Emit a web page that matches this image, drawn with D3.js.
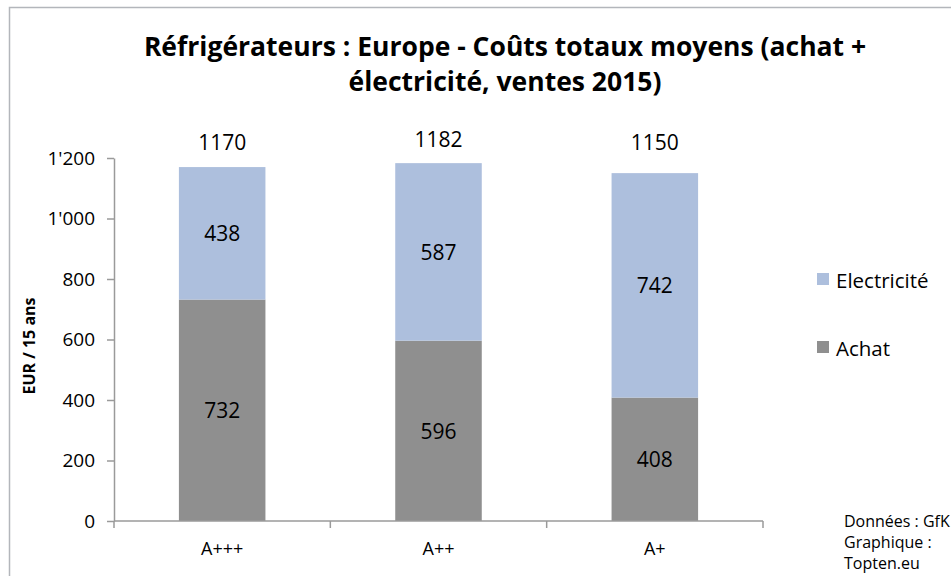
<!DOCTYPE html>
<html><head><meta charset="utf-8">
<script src="https://cdn.jsdelivr.net/npm/d3@7"></script>
<style>body{margin:0;background:#fff}svg{display:block}text{font-family:"Open Sans",sans-serif;fill:#000}</style>
</head><body><svg id="c" width="951" height="576"></svg>
<script>
const categories = ["A+++","A++","A+"];
const achat = [732,596,408];
const electricite = [438,587,742];
const totals = [1170,1182,1150];
const yTicks = [0,200,400,600,800,1000,1200];
const seriesNames = ["Electricité","Achat"];
const titleLines = ["Réfrigérateurs : Europe - Coûts totaux moyens (achat +","électricité, ventes 2015)"];
const yTitle = "EUR / 15 ans";
const credits = ["Données : GfK","Graphique :","Topten.eu"];

const colors = {Achat:"#8f8f8f", "Electricité":"#adbfdd"};
const svg = d3.select("#c");
svg.append("rect").attr("x",9.5).attr("y",7.5).attr("width",1000).attr("height",1000)
  .attr("fill","#fff").attr("stroke","#b3b6bb").attr("stroke-width",1.5);

const x = d3.scaleBand().domain(categories).range([114,763]).paddingInner(0.6).paddingOuter(0.3);
const y = d3.scaleLinear().domain([0,1200]).range([521,158]);
const loc = d3.formatLocale({decimal:".",thousands:"'",grouping:[3],currency:["",""]});
const fmt = loc.format(",");

const data = categories.map((c,i)=>({cat:c, Achat:achat[i], "Electricité":electricite[i], total:totals[i]}));
const stack = d3.stack().keys(["Achat","Electricité"])(data);

const g = svg.append("g");
stack.forEach(layer=>{
  g.selectAll(null).data(layer).enter().append("rect")
    .attr("x",d=>x(d.data.cat)).attr("width",x.bandwidth())
    .attr("y",d=>y(d[1])).attr("height",d=>y(d[0])-y(d[1]))
    .attr("fill",colors[layer.key]);
  g.selectAll(null).data(layer).enter().append("text")
    .attr("x",d=>x(d.data.cat)+x.bandwidth()/2)
    .attr("y",d=>y((d[0]+d[1])/2)+8)
    .attr("text-anchor","middle").style("font-size","21px")
    .text(d=>d.data[layer.key]);
});
g.selectAll(null).data(data).enter().append("text")
  .attr("x",d=>x(d.cat)+x.bandwidth()/2)
  .attr("y",d=>Math.min(y(d.total)-24,142)+8)
  .attr("text-anchor","middle").style("font-size","21px")
  .text(d=>d.total);

// y axis
const ya = svg.append("g").attr("transform","translate(114,0)")
  .call(d3.axisLeft(y).tickValues(yTicks).tickFormat(fmt).tickSize(7).tickSizeOuter(0).tickPadding(12));
ya.select(".domain").attr("stroke","#9a9a9a").attr("stroke-width",1.5);
ya.selectAll(".tick line").attr("stroke","#9a9a9a").attr("stroke-width",1.5);
ya.selectAll(".tick text").style("font-size","19px").style("font-family","'Open Sans',sans-serif").attr("fill","#000");

// x axis
const xa = svg.append("g").attr("transform","translate(0,521)");
xa.append("line").attr("x1",114).attr("x2",763).attr("stroke","#9a9a9a").attr("stroke-width",1.5);
const bounds = [0,1,2,3].map(i=>114 + i*(763-114)/categories.length);
xa.selectAll(null).data(bounds).enter().append("line")
  .attr("x1",d=>d).attr("x2",d=>d).attr("y1",0).attr("y2",7)
  .attr("stroke","#9a9a9a").attr("stroke-width",1.5);
xa.selectAll(null).data(categories).enter().append("text")
  .attr("x",d=>x(d)+x.bandwidth()/2).attr("y",34)
  .attr("text-anchor","middle").style("font-size","18px").text(d=>d);

// title
svg.selectAll(null).data(titleLines).enter().append("text")
  .attr("x",505).attr("y",(d,i)=>56+i*35)
  .attr("text-anchor","middle").style("font-size","26.5px").style("font-weight","bold").text(d=>d);

// y title
svg.append("text").attr("transform","translate(35,346) rotate(-90)")
  .attr("text-anchor","middle").style("font-size","16px").style("font-weight","bold").text(yTitle);

// legend
const lg = svg.append("g");
seriesNames.forEach((s,i)=>{
  lg.append("rect").attr("x",817).attr("y",273+i*68).attr("width",12).attr("height",12).attr("fill",colors[s]);
  lg.append("text").attr("x",836).attr("y",288+i*68).style("font-size","20.5px").text(s);
});

// credits
svg.selectAll(null).data(credits).enter().append("text")
  .attr("x",844).attr("y",(d,i)=>527+i*21).style("font-size","16px").text(d=>d);
</script></body></html>
